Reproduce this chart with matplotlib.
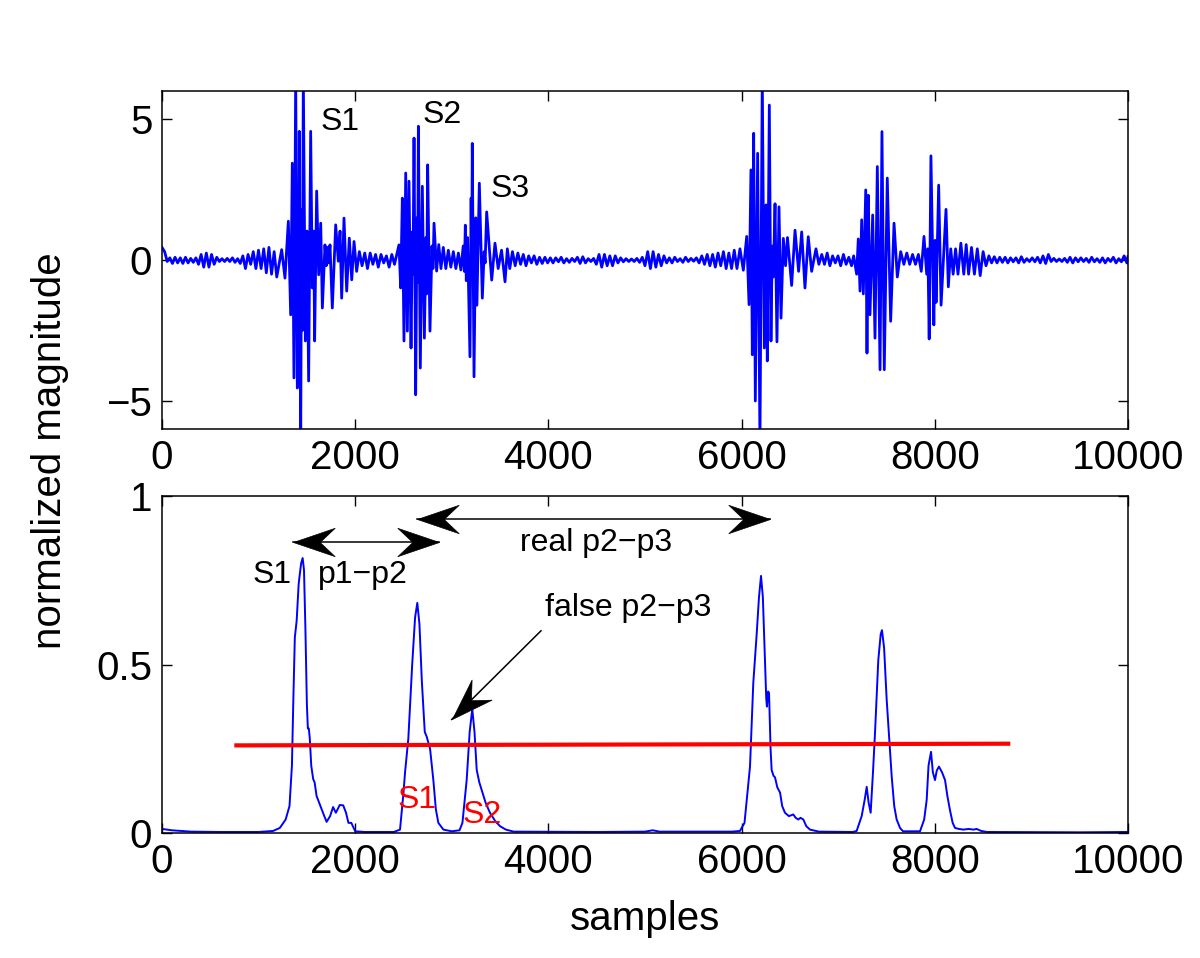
import numpy as np
import matplotlib
matplotlib.use('Agg')
import matplotlib.pyplot as plt
from matplotlib.path import Path
from matplotlib.markers import MarkerStyle
from matplotlib.transforms import Affine2D

plt.rcParams['font.family'] = ['Liberation Sans', 'DejaVu Sans']

# ---- top panel: raw heart sound (quiet stretches on a fixed step, bursts as extrema)
quiet_a_start, quiet_a_step = 0, 27
quiet_a = [0.45, 0.3, -0.05, 0.08, -0.12, 0.1, -0.1, 0.08, -0.12, 0.1, -0.1, 0.06, -0.08, 0.08, -0.15,
           0.2, -0.25, 0.25, -0.25, 0.2, -0.15, 0.1, -0.05, 0.05, -0.05, 0.06, -0.05, 0.08, -0.08, 0.05,
           -0.12, 0.15, -0.3, 0.2, -0.15, 0.3, -0.3, 0.35, -0.3, 0.4, -0.45, 0.45, -0.5, 0.3, -0.6]

burst_1_x = [1239, 1273, 1308, 1332, 1349, 1366, 1384, 1401, 1408, 1414, 1421, 1436, 1445, 1452, 1463,
             1484, 1492, 1496, 1501, 1518, 1539, 1556, 1570, 1580, 1601, 1622, 1643, 1660, 1687, 1700,
             1713, 1726, 1739, 1763, 1798, 1825, 1843, 1860, 1884, 1912, 1939, 1964, 1988, 2015]
burst_1_y = [0.37, -0.64, 1.38, -1.94, 3.44, -4.18, 6.5, -4.54, 0.8, -1.2, 4.57, -6.3, 1.8, -2.5, 6.5,
             -2.87, 0.3, -0.5, 1.03, -4.29, 4.57, -0.99, 1.03, -2.87, 2.45, -0.52, 1.31, -1.7, 0.54, -0.2,
             0.45, -0.1, 0.54, -1.7, 1.25, -0.04, 1.03, -1.35, 1.49, -1.1, 0.78, -0.7, 0.66, -0.4]

quiet_b_start, quiet_b_step = 2043, 28
quiet_b = [0.3, -0.2, 0.25, -0.3, 0.25, -0.15, 0.2, -0.25, 0.2, -0.1, 0.15, -0.25, 0.2, -0.15]

burst_2_x = [2453, 2471, 2488, 2505, 2523, 2540, 2557, 2578, 2592, 2598, 2609, 2626, 2640, 2646, 2654,
             2674, 2695, 2716, 2733, 2740, 2750, 2774, 2795, 2805, 2816, 2843, 2865, 2888, 2912]
burst_2_y = [0.54, -0.99, 2.2, -2.87, 3.09, -2.52, 2.8, -3.12, 1.0, -0.5, 4.33, -4.78, 1.5, -0.8, 4.75,
             -3.83, 2.62, -2.77, 0.8, -1.2, 3.38, -2.52, 0.5, -0.3, 1.31, -0.39, 0.55, -0.3, 0.45]

quiet_c_start, quiet_c_step = 2938, 26
quiet_c = [-0.3, 0.35, -0.25, 0.3, -0.3, 0.25, -0.35]

burst_3_x = [3118, 3130, 3140, 3150, 3163, 3188, 3200, 3206, 3212, 3230, 3248, 3260, 3285, 3316, 3335,
             3345, 3361, 3413, 3447, 3480, 3515, 3551, 3575, 3600]
burst_3_y = [0.5, -0.4, 1.24, -0.73, 0.8, -3.43, 2.2, -0.5, 4.14, -4.14, 1.5, -1.6, 2.73, -1.35, 0.3,
             -0.1, 1.71, -0.71, 0.6, -0.3, 0.35, -0.77, 0.4, -0.3]

quiet_d_start, quiet_d_step = 3628, 28
quiet_d = [0.3, -0.2, 0.25, -0.15, 0.2, -0.2, 0.15, -0.1, 0.15, -0.15, 0.1, -0.12, 0.1, -0.1,
           0.08, -0.1, 0.08, -0.06, 0.1, -0.1, 0.05, -0.08, 0.06, -0.05, 0.1, -0.12, 0.12, -0.1, 0.05, -0.05, 0.06,
           -0.15, 0.2, -0.25, 0.2, -0.2, 0.15, -0.2, 0.15, -0.1, 0.08, -0.06,
           0.05, -0.05, 0.04, -0.05, 0.06, -0.08, 0.1,
           -0.2, 0.3, -0.3, 0.3, -0.25, 0.2, -0.2, 0.15, -0.1,
           0.08, -0.1, 0.1, -0.05, 0.05, -0.08, 0.1, -0.05, 0.06, -0.04, 0.08,
           -0.1, 0.15, -0.15, 0.2, -0.2, 0.2, -0.25, 0.25, -0.2, 0.3, -0.3, 0.25, -0.3, 0.35, -0.3]

burst_4_x = [5983, 6018, 6053, 6077, 6097, 6111, 6125, 6142, 6166, 6190, 6214, 6235, 6253, 6266, 6287,
             6304, 6317, 6328, 6346, 6366, 6387, 6408, 6432, 6455, 6475, 6518, 6553, 6590, 6622, 6656,
             6690, 6725, 6770, 6800]
burst_4_y = [0.4, -0.36, 0.84, -1.58, 3.2, -3.36, 4.5, -5.0, 3.79, -6.5, 6.5, -3.12, 1.96, -3.58, 5.5,
             -2.87, 0.5, -0.6, 2.0, -2.9, 1.89, -2.06, 0.77, -0.2, 0.8, -0.9, 1.06, -0.4, 1.0, -0.99,
             0.83, -0.4, 0.4, -0.15]

quiet_e_start, quiet_e_step = 6830, 28
quiet_e = [0.2, -0.15, 0.25, -0.2, 0.15, -0.1, 0.15, -0.2, 0.2, -0.15, 0.1, -0.2]

burst_5_x = [7160, 7191, 7208, 7226, 7243, 7260, 7285, 7298, 7312, 7329, 7357, 7381, 7405, 7433, 7453,
             7477, 7508, 7543, 7578, 7612, 7647, 7680, 7710, 7740, 7770, 7800, 7830, 7860]
burst_5_y = [0.15, -0.5, 0.75, -1.1, 1.43, -1.2, 2.49, -3.3, 2.3, -1.94, 1.6, -2.77, 3.32, -3.89, 4.56,
             -3.89, 2.91, -2.17, 1.31, -0.6, 0.3, -0.15, 0.25, -0.15, 0.2, -0.15, 0.2, -0.4]

burst_6_x = [7888, 7916, 7928, 7942, 7960, 7990, 8003, 8013, 8040, 8065, 8116, 8140, 8165, 8190, 8215,
             8240, 8270, 8300, 8325, 8350, 8380, 8410, 8440, 8470, 8500, 8530]
burst_6_y = [0.84, -0.5, 0.4, -2.8, 3.7, -2.3, 0.7, -1.5, 2.66, -1.6, 1.8, -0.95, 0.4, -0.5, 0.4,
             -0.5, 0.6, -0.5, 0.55, -0.5, 0.45, -0.5, 0.4, -0.55, 0.3, -0.2]

quiet_f_start, quiet_f_step = 8560, 28
quiet_f = [0.15, -0.1, 0.12, -0.1, 0.1, -0.08, 0.1, -0.1, 0.08, -0.06,
           0.08, -0.1, 0.12, -0.08, 0.05, -0.05, 0.08, -0.06, 0.1, -0.1,
           0.15, -0.12, 0.2, -0.05, 0.06, -0.05, 0.04, -0.05, 0.06, -0.08,
           0.1, -0.1, 0.08, -0.06, 0.08, -0.05, 0.06, -0.08, 0.1, -0.06,
           0.05, -0.08, 0.08, -0.1, 0.06, -0.05, 0.1, -0.1, 0.05, -0.06,
           0.15, -0.1]
end_x, end_y = [10000], [0.12]

# ---- bottom panel: normalized envelope
env_x = [0, 100, 300, 600, 1000, 1150, 1220, 1280, 1320, 1345, 1360, 1375, 1394, 1415, 1440, 1456, 1470,
         1485, 1500, 1510, 1520, 1530, 1545, 1565, 1580, 1600, 1640, 1680, 1704, 1740, 1771, 1800, 1840,
         1876, 1905, 1930, 1960, 2000, 2100, 2400, 2464, 2500, 2516, 2550, 2590, 2620, 2643, 2665, 2690,
         2720, 2740, 2775, 2809, 2835, 2861, 2913, 3000, 3080, 3110, 3154, 3185, 3212, 3235, 3258, 3285,
         3309, 3350, 3395, 3450, 3500, 3560, 3640, 4500, 5000, 5080, 5150, 5900, 5983, 6030, 6087, 6121,
         6156, 6180, 6201, 6220, 6235, 6255, 6262, 6275, 6284, 6300, 6311, 6330, 6346, 6370, 6398, 6420,
         6449, 6490, 6535, 6560, 6587, 6610, 6639, 6670, 6708, 6800, 7150, 7191, 7243, 7275, 7295, 7315,
         7336, 7360, 7381, 7415, 7440, 7453, 7475, 7502, 7530, 7554, 7580, 7605, 7640, 7671, 7847, 7890,
         7916, 7935, 7961, 7980, 8002, 8020, 8043, 8075, 8106, 8130, 8157, 8185, 8209, 8250, 8296, 8350,
         8400, 8433, 8480, 8540, 9500, 10000]
env_y = [0.012, 0.008, 0.004, 0.003, 0.003, 0.006, 0.015, 0.04, 0.08, 0.2, 0.4, 0.58, 0.63, 0.74, 0.8,
         0.816, 0.78, 0.6, 0.38, 0.31, 0.31, 0.28, 0.2, 0.16, 0.15, 0.11, 0.08, 0.05, 0.033, 0.05, 0.077,
         0.06, 0.083, 0.082, 0.06, 0.03, 0.03, 0.005, 0.003, 0.003, 0.01, 0.12, 0.18, 0.28, 0.5, 0.64,
         0.683, 0.62, 0.45, 0.3, 0.286, 0.25, 0.157, 0.07, 0.03, 0.01, 0.005, 0.008, 0.03, 0.157, 0.3,
         0.368, 0.3, 0.187, 0.15, 0.128, 0.09, 0.06, 0.035, 0.02, 0.01, 0.004, 0.003, 0.004, 0.008, 0.004,
         0.004, 0.006, 0.03, 0.197, 0.445, 0.59, 0.7, 0.763, 0.7, 0.573, 0.4, 0.375, 0.42, 0.415, 0.25,
         0.187, 0.17, 0.165, 0.135, 0.12, 0.08, 0.06, 0.05, 0.055, 0.045, 0.04, 0.045, 0.04, 0.02, 0.01,
         0.004, 0.003, 0.006, 0.05, 0.1, 0.137, 0.09, 0.06, 0.18, 0.297, 0.513, 0.59, 0.602, 0.55, 0.395,
         0.27, 0.167, 0.08, 0.04, 0.015, 0.005, 0.005, 0.04, 0.098, 0.2, 0.241, 0.18, 0.157, 0.185, 0.197,
         0.18, 0.157, 0.11, 0.068, 0.03, 0.015, 0.012, 0.01, 0.012, 0.01, 0.012, 0.006, 0.003, 0.002, 0.003]

thr_x = [770, 8760]
thr_y = [0.26, 0.265]

# arrows: (x_from, y_from, x_to, y_to, double headed)
arrows = [(1353, 0.865, 2867, 0.865, True),
          (2636, 0.931, 6294, 0.931, True),
          (3923, 0.60, 2999, 0.337, False)]

top_labels = [('S1', 1636, 4.89), ('S2', 2702, 5.14), ('S3', 3406, 2.52)]
black_labels = [('S1', 942, 0.766), ('p1\u2212p2', 1615, 0.766),
                ('real p2\u2212p3', 3706, 0.86), ('false p2\u2212p3', 3965, 0.668)]
red_labels = [('S1', 2443, 0.098), ('S2', 3106, 0.053)]


def quiet(start, step, vals):
    return list(start + step * np.arange(len(vals))), list(vals)


parts = [quiet(quiet_a_start, quiet_a_step, quiet_a), (burst_1_x, burst_1_y),
         quiet(quiet_b_start, quiet_b_step, quiet_b), (burst_2_x, burst_2_y),
         quiet(quiet_c_start, quiet_c_step, quiet_c), (burst_3_x, burst_3_y),
         quiet(quiet_d_start, quiet_d_step, quiet_d), (burst_4_x, burst_4_y),
         quiet(quiet_e_start, quiet_e_step, quiet_e), (burst_5_x, burst_5_y),
         (burst_6_x, burst_6_y), quiet(quiet_f_start, quiet_f_step, quiet_f), (end_x, end_y)]
top_x = np.concatenate([p[0] for p in parts])
top_y = np.concatenate([p[1] for p in parts])

fig = plt.figure(figsize=(12, 9.58), dpi=100)
ax1 = fig.add_axes([0.135, 0.552, 0.805, 0.353])
ax2 = fig.add_axes([0.135, 0.1305, 0.805, 0.3517])

ax1.plot(top_x, top_y, color='#0000ff', lw=2.0)
ax1.set_xlim(0, 10000)
ax1.set_ylim(-6, 6)
ax1.set_yticks([-5, 0, 5])

ax2.plot(env_x, env_y, color='#0000ff', lw=1.4)
ax2.plot(thr_x, thr_y, color='#ff0000', lw=3)
ax2.set_xlim(0, 10000)
ax2.set_ylim(0, 1)
ax2.set_yticks([0, 0.5, 1])
ax2.set_yticklabels(['0', '0.5', '1'])

for ax in (ax1, ax2):
    ax.set_xticks(np.arange(0, 10001, 2000))
    ax.tick_params(direction='in', length=7, width=1, labelsize=29, pad=7,
                   top=True, right=True)
    for s in ax.spines.values():
        s.set_linewidth(1.1)

ax2.set_xlabel('samples', fontsize=29, labelpad=14)
fig.text(0.042, 0.53, 'normalized magnitude', rotation=90, fontsize=29,
         ha='center', va='center')

for txt, x, y in top_labels:
    ax1.text(x, y, txt, fontsize=23, ha='left', va='center')
for txt, x, y in black_labels:
    ax2.text(x, y, txt, fontsize=23, ha='left', va='center')
for txt, x, y in red_labels:
    ax2.text(x, y, txt, fontsize=23, ha='left', va='center', color='#ff0000')

# MATLAB style swept-back arrow head, tip at origin pointing along +x
head = Path([(0, 0), (-1, 0.34), (-0.64, 0), (-1, -0.34), (0, 0)],
            [Path.MOVETO, Path.LINETO, Path.LINETO, Path.LINETO, Path.CLOSEPOLY])

for x0, y0, x1, y1, both in arrows:
    ax2.plot([x0, x1], [y0, y1], color='k', lw=1.1, clip_on=False)
    p0, p1 = ax2.transData.transform([(x0, y0), (x1, y1)])
    ang = np.degrees(np.arctan2(p1[1] - p0[1], p1[0] - p0[0]))
    ends = [(x1, y1, ang)]
    if both:
        ends.append((x0, y0, ang + 180))
    for x, y, a in ends:
        m = MarkerStyle(head, transform=Affine2D().rotate_deg(a))
        ax2.plot([x], [y], linestyle='none', marker=m, ms=60, color='k',
                 mec='k', mew=0.5, clip_on=False)

fig.savefig('out.png', dpi=100)
